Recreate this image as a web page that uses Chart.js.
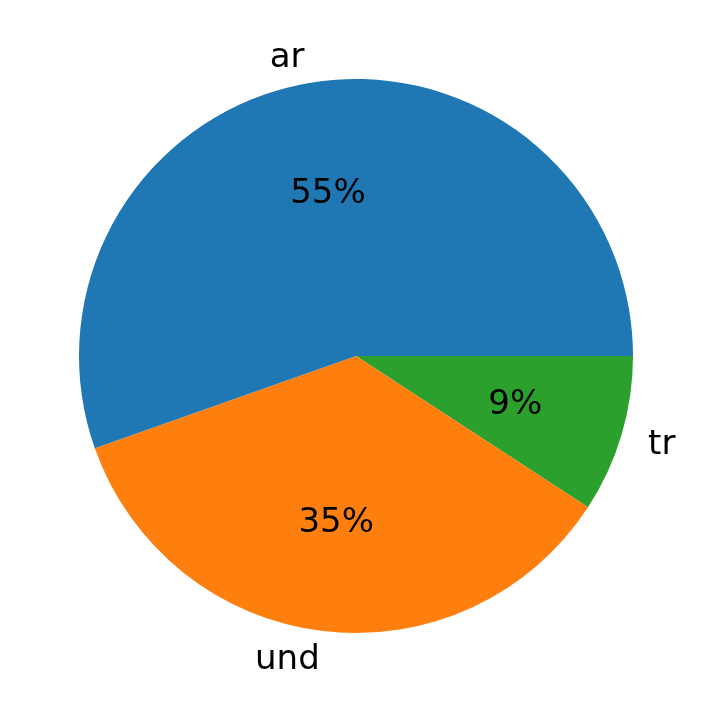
<!DOCTYPE html>
<html>
<head>
<meta charset="utf-8">
<script src="https://cdn.jsdelivr.net/npm/chart.js@4/dist/chart.umd.min.js"></script>
<style>
  html, body { margin: 0; padding: 0; background: #fff; }
  #pie { display: block; }
</style>
</head>
<body>
<canvas id="pie" width="712" height="713"></canvas>
<script>
// slice labels and shares, in the order they appear counterclockwise from 3 o'clock
const labels = ["ar", "und", "tr"];
const shares = [55.4, 35.4, 9.2];
const colors = ["#1f77b4", "#ff7f0e", "#2ca02c"];

// Chart.js draws clockwise, so feed the slices reversed
const rLabels = labels.slice().reverse();
const rShares = shares.slice().reverse();
const rColors = colors.slice().reverse();

const FONT = "34px 'DejaVu Sans'";

/************** text labels like matplotlib autopct ****************/
const pieText = {
    id: "pieText",
    afterDatasetsDraw(chart) {
        const ctx = chart.ctx;
        const meta = chart.getDatasetMeta(0);
        const total = rShares.reduce((a, b) => a + b, 0);
        ctx.save();
        ctx.font = FONT;
        ctx.fillStyle = "#000";
        ctx.textBaseline = "middle";
        meta.data.forEach((arc, i) => {
            const mid = (arc.startAngle + arc.endAngle) / 2;
            const r = arc.outerRadius;
            const cos = Math.cos(mid), sin = Math.sin(mid);

            // outer label
            ctx.textAlign = cos > 0 ? "left" : "right";
            ctx.fillText(rLabels[i], arc.x + cos * r * 1.1, arc.y + sin * r * 1.1 + 2);

            // percentage inside
            const pct = Math.round(rShares[i] / total * 100) + "%";
            ctx.textAlign = "center";
            ctx.fillText(pct, arc.x + cos * r * 0.6, arc.y + sin * r * 0.6 + 2);
        });
        ctx.restore();
    }
};

new Chart(document.getElementById("pie"), {
    type: "pie",
    data: {
        labels: rLabels,
        datasets: [{
            data: rShares,
            backgroundColor: rColors,
            borderWidth: 0
        }]
    },
    options: {
        responsive: false,
        animation: false,
        rotation: 90,
        layout: { padding: { left: 79, right: 79, top: 79, bottom: 80 } },
        plugins: {
            legend: { display: false },
            tooltip: { enabled: false }
        }
    },
    plugins: [pieText]
});
</script>
</body>
</html>
